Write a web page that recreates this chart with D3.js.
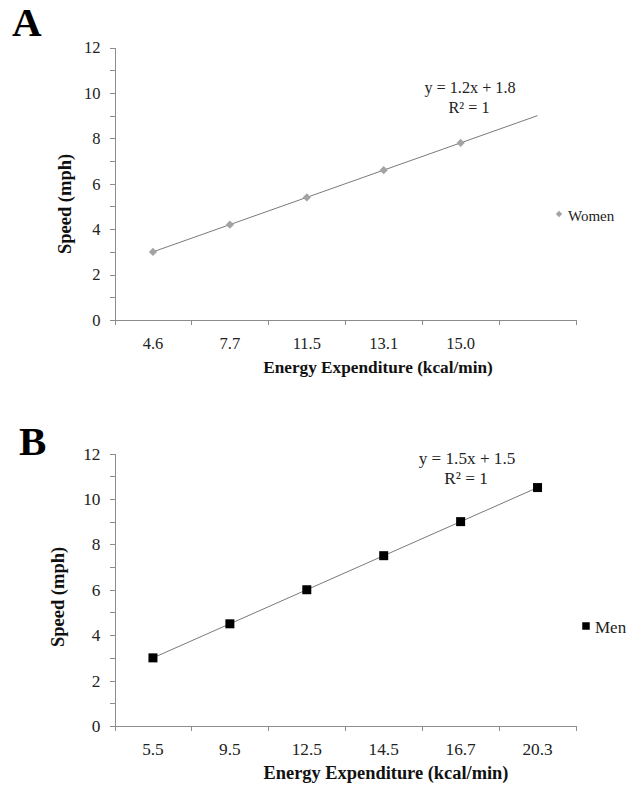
<!DOCTYPE html>
<html>
<head>
<meta charset="utf-8">
<script src="https://cdn.jsdelivr.net/npm/d3@7"></script>
<style>
  body { margin: 0; background: #fff; }
  svg { display: block; }
  .axis path, .axis line { stroke: #8c8c8c; shape-rendering: crispEdges; }
  text { font-family: "Liberation Serif", "Times New Roman", serif; fill: #111; }
</style>
</head>
<body>
<div id="chart"></div>
<script>
// Panel A - women
const womenEnergy = ["4.6", "7.7", "11.5", "13.1", "15.0", ""];
const womenSpeed = [3, 4.2, 5.4, 6.6, 7.8];
const womenFit = { slope: 1.2, intercept: 1.8, label: "y = 1.2x + 1.8" };

// Panel B - men
const menEnergy = ["5.5", "9.5", "12.5", "14.5", "16.7", "20.3"];
const menSpeed = [3, 4.5, 6, 7.5, 9, 10.5];
const menFit = { slope: 1.5, intercept: 1.5, label: "y = 1.5x + 1.5" };

const speedTicks = d3.range(0, 13, 1);

const svg = d3.select("#chart").append("svg")
    .attr("width", 628)
    .attr("height", 786);

// a diamond that is as wide as it is tall (Excel style)
const squareDiamond = {
  draw(context, size) {
    let r = Math.sqrt(size / 2);
    context.moveTo(0, -r);
    context.lineTo(r, 0);
    context.lineTo(0, r);
    context.lineTo(-r, 0);
    context.closePath();
  }
};

function drawPanel(opt) {
  let g = svg.append("g");

  // category positions: 1..n, ticks sit between the categories
  let x = d3.scaleLinear()
      .domain([0.5, opt.categories.length + 0.5])
      .range([114.5, 576]);
  let y = d3.scaleLinear()
      .domain([0, 12])
      .range([opt.bottom, opt.bottom - 272.5]);

  // panel letter
  g.append("text")
      .attr("x", opt.letterX)
      .attr("y", opt.letterY)
      .style("font-size", "41px")
      .style("font-weight", "bold")
      .style("fill", "#000")
      .text(opt.letter);

  // y axis
  let yAxis = g.append("g")
      .attr("class", "axis")
      .attr("transform", "translate(" + x.range()[0] + ",0)")
      .call(d3.axisLeft(y).tickValues(speedTicks).tickSize(5).tickSizeOuter(0)
          .tickFormat(d => d % 2 == 0 ? d : ""));
  yAxis.selectAll("text")
      .attr("x", -14)
      .style("font-size", opt.fs + "px")
      .style("font-family", "Liberation Serif")
      .style("fill", "#222");

  // x axis, tick marks only
  g.append("g")
      .attr("class", "axis")
      .attr("transform", "translate(0," + y(0) + ")")
      .call(d3.axisBottom(x).tickValues(d3.range(0.5, opt.categories.length + 1, 1))
          .tickSize(5).tickSizeOuter(0).tickFormat(""));

  // category labels
  g.selectAll(".cat")
      .data(opt.categories)
      .join("text")
      .attr("class", "cat")
      .attr("x", (d, i) => x(i + 1))
      .attr("y", y(0) + 29)
      .attr("text-anchor", "middle")
      .style("font-size", opt.fs + "px")
      .style("fill", "#222")
      .text(d => d);

  // axis titles
  g.append("text")
      .attr("x", opt.xTitleX)
      .attr("y", y(0) + 53)
      .attr("text-anchor", "middle")
      .style("font-size", opt.titleFs + "px")
      .style("font-weight", "bold")
      .text("Energy Expenditure (kcal/min)");

  g.append("text")
      .attr("transform", "translate(" + opt.titleX + "," + opt.titleY + ") rotate(-90)")
      .attr("text-anchor", "middle")
      .style("font-size", opt.yTitleFs + "px")
      .style("font-weight", "bold")
      .text("Speed (mph)");

  // linear trendline across the categories
  let n = opt.categories.length;
  g.append("line")
      .attr("x1", x(1))
      .attr("y1", y(opt.fit.slope * 1 + opt.fit.intercept))
      .attr("x2", x(n))
      .attr("y2", y(opt.fit.slope * n + opt.fit.intercept))
      .attr("stroke", "#7a7a7a")
      .attr("stroke-width", 1);

  // markers
  let sym = d3.symbol().type(opt.symbol).size(opt.symbolSize);
  g.selectAll(".pt")
      .data(opt.values)
      .join("path")
      .attr("class", "pt")
      .attr("transform", (d, i) => "translate(" + x(i + 1) + "," + y(d) + ")")
      .attr("d", sym)
      .attr("fill", opt.color);

  // equation label
  let eq = g.append("text")
      .attr("text-anchor", "middle")
      .style("font-size", opt.eqFs + "px")
      .style("fill", "#222");
  eq.append("tspan").attr("x", opt.eqX).attr("y", opt.eqY).text(opt.fit.label);
  eq.append("tspan").attr("x", opt.eqX - 1).attr("y", opt.eqY + 20).text("R² = 1");

  // legend
  g.append("path")
      .attr("transform", "translate(" + opt.legendX + "," + (opt.legendY - 7) + ")")
      .attr("d", d3.symbol().type(opt.symbol).size(opt.legendSize))
      .attr("fill", opt.color);
  g.append("text")
      .attr("x", opt.legendX + 9)
      .attr("y", opt.legendY)
      .style("font-size", opt.legendFs + "px")
      .style("fill", "#222")
      .text(opt.name);
}

drawPanel({
  letter: "A", letterX: 12, letterY: 36,
  categories: womenEnergy, values: womenSpeed, fit: womenFit,
  bottom: 320, titleX: 71, titleY: 204,
  fs: 16.5, titleFs: 17.25, yTitleFs: 18.5, eqFs: 16.2, legendFs: 15,
  xTitleX: 378,
  symbol: squareDiamond, symbolSize: 34, legendSize: 20, color: "#a3a3a3",
  eqX: 470, eqY: 93,
  name: "Women", legendX: 559, legendY: 221
});

drawPanel({
  letter: "B", letterX: 19, letterY: 455,
  categories: menEnergy, values: menSpeed, fit: menFit,
  bottom: 726, titleX: 64, titleY: 597,
  fs: 17.3, titleFs: 18.4, yTitleFs: 18.5, eqFs: 17.2, legendFs: 17,
  xTitleX: 386,
  symbol: d3.symbolSquare, symbolSize: 81, legendSize: 56, color: "#000",
  eqX: 467, eqY: 464,
  name: "Men", legendX: 586, legendY: 633
});
</script>
</body>
</html>
